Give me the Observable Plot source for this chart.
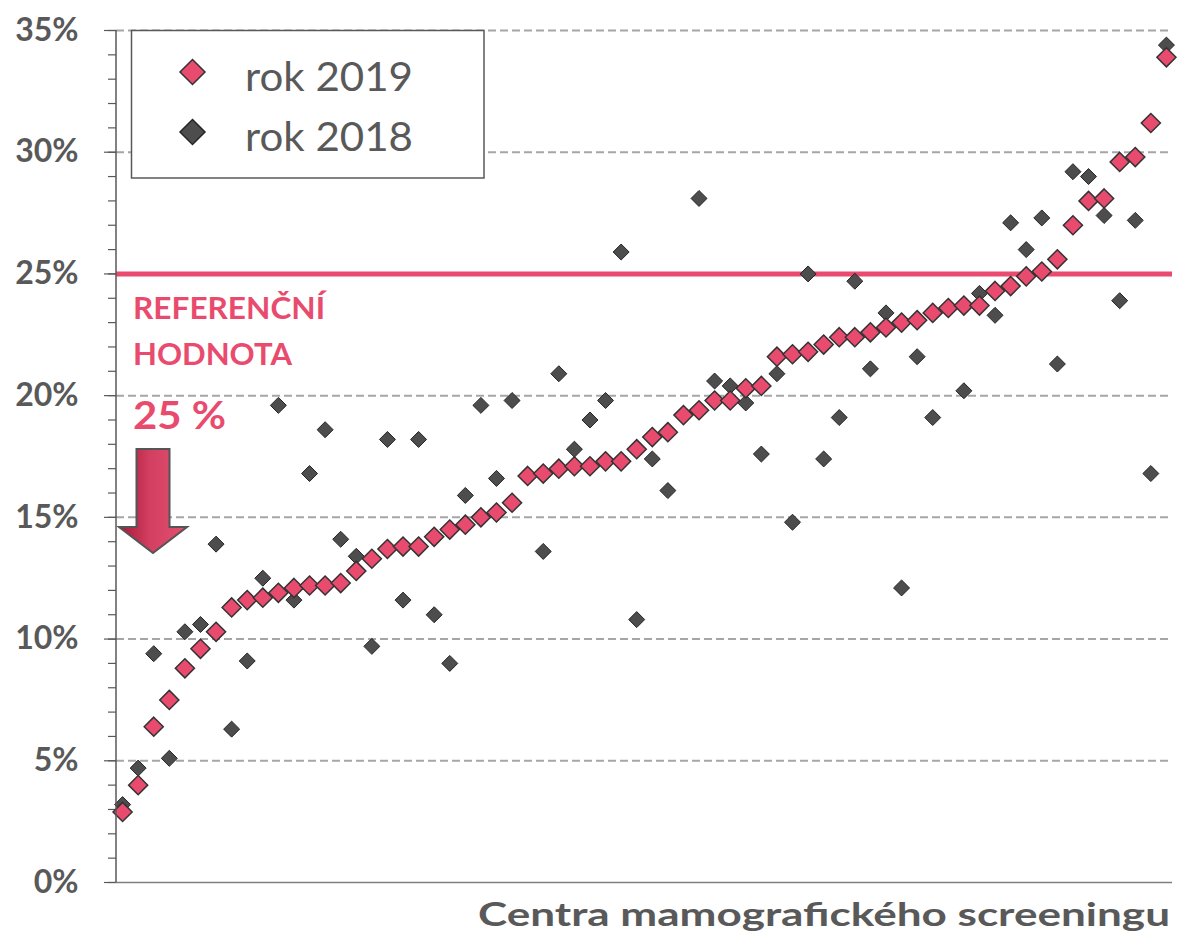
<!DOCTYPE html>
<html><head><meta charset="utf-8">
<script src="https://cdn.jsdelivr.net/npm/d3@7"></script>
<script src="https://cdn.jsdelivr.net/npm/@observablehq/plot@0.6"></script>
<style>
body{margin:0;background:#fff;}
#chart{position:relative;width:1179px;height:936px;}
</style>
</head><body><div id="chart"></div>
<script>
// ---- data ----
const centers = d3.range(1, 69);
const rok2019 = [2.9, 4.0, 6.4, 7.5, 8.8, 9.6, 10.3, 11.3, 11.6, 11.7,
  11.9, 12.1, 12.2, 12.2, 12.3, 12.8, 13.3, 13.7, 13.8, 13.8,
  14.2, 14.5, 14.7, 15.0, 15.2, 15.6, 16.7, 16.8, 17.0, 17.1,
  17.1, 17.3, 17.3, 17.8, 18.3, 18.5, 19.2, 19.4, 19.8, 19.8,
  20.3, 20.4, 21.6, 21.7, 21.8, 22.1, 22.4, 22.4, 22.6, 22.8,
  23.0, 23.1, 23.4, 23.6, 23.7, 23.7, 24.3, 24.5, 24.9, 25.1,
  25.6, 27.0, 28.0, 28.1, 29.6, 29.8, 31.2, 33.9];
const rok2018 = [3.2, 4.7, 9.4, 5.1, 10.3, 10.6, 13.9, 6.3, 9.1, 12.5,
  19.6, 11.6, 16.8, 18.6, 14.1, 13.4, 9.7, 18.2, 11.6, 18.2,
  11.0, 9.0, 15.9, 19.6, 16.6, 19.8, null, 13.6, 20.9, 17.8,
  19.0, 19.8, 25.9, 10.8, 17.4, 16.1, null, 28.1, 20.6, 20.4,
  19.7, 17.6, 20.9, 14.8, 25.0, 17.4, 19.1, 24.7, 21.1, 23.4,
  12.1, 21.6, 19.1, null, 20.2, 24.2, 23.3, 27.1, 26.0, 27.3,
  21.3, 29.2, 29.0, 27.4, 23.9, 27.2, 16.8, 34.4];
const yTicks = [0, 5, 10, 15, 20, 25, 30, 35];
const yMinorTicks = d3.range(0, 36, 1);
const referenceValue = 25;
const seriesNames = ["rok 2019", "rok 2018"];
const xTitle = "Centra mamografického screeningu";
const refLabel = ["REFERENČNÍ", "HODNOTA", "25 %"];

const pink = "#E94B6E";
const dark = "#4D4D4D";
const textGray = "#595959";

const data19 = centers.map((c, i) => ({center: c, value: rok2019[i]}));
const data18 = centers.map((c, i) => ({center: c, value: rok2018[i]}));

const plot = Plot.plot({
  width: 1179, height: 936,
  marginLeft: 116, marginRight: 7, marginTop: 30, marginBottom: 54,
  x: {type: "point", domain: centers, padding: 0.39, axis: null},
  y: {domain: [0, 35], axis: null},
  style: {fontFamily: "Lato, sans-serif", background: "white", overflow: "visible"},
  marks: [
    Plot.ruleY(yTicks.filter(t => t > 0 && t !== referenceValue), {stroke: "#A6A6A6", strokeWidth: 2, strokeDasharray: "8,4"}),
    Plot.axisY(yMinorTicks, {tickSize: 8, text: null, label: null, stroke: textGray, strokeWidth: 1.2}),
    Plot.axisY(yTicks, {tickSize: 12, tickPadding: 26, label: null, tickFormat: d => d + "%", fontSize: 32, fontWeight: "bold", fill: textGray, stroke: textGray, strokeWidth: 1.2}),
    Plot.ruleY([0], {stroke: "#7F7F7F", strokeWidth: 1.5}),
    Plot.ruleY([referenceValue], {stroke: pink, strokeWidth: 5}),
    Plot.dot(data18, {x: "center", y: "value", symbol: "diamond2", r: 7.2, fill: dark, stroke: "#262626", strokeWidth: 1}),
    Plot.dot(data19, {x: "center", y: "value", symbol: "diamond2", r: 8.6, fill: pink, stroke: "#333333", strokeWidth: 1.5})
  ]
});
document.getElementById("chart").appendChild(plot);

const svg = d3.select(plot);
const y = plot.scale("y");

// left axis line (drawn from the y scale)
svg.append("line").attr("x1", 116).attr("x2", 116)
  .attr("y1", y.apply(35)).attr("y2", y.apply(0))
  .attr("stroke", textGray).attr("stroke-width", 1.5);

// x title
svg.append("text").text(xTitle)
  .attr("x", 478).attr("y", 926).attr("text-anchor", "start")
  .attr("font-family", "Lato, sans-serif").attr("font-weight", "bold")
  .attr("font-size", 33).attr("fill", textGray)
  .attr("textLength", 692).attr("lengthAdjust", "spacingAndGlyphs");

// legend
const lg = svg.append("g").attr("text-anchor", "start");
lg.append("rect").attr("x", 131.5).attr("y", 30.5).attr("width", 352.5).attr("height", 147.5)
  .attr("fill", "white").attr("stroke", textGray).attr("stroke-width", 1.5);
const sym = d3.symbol(d3.symbolDiamond2, 398);
[[pink, 72, "#333333"], [dark, 132, "#262626"]].forEach(([f, cy, s], i) => {
  lg.append("path").attr("d", sym()).attr("transform", `translate(192.5,${cy})`)
    .attr("fill", f).attr("stroke", s).attr("stroke-width", 1.5);
  lg.append("text").text(seriesNames[i]).attr("x", 245).attr("y", cy + 19)
    .attr("font-family", "Lato, sans-serif").attr("font-size", 41).attr("fill", textGray)
    .attr("textLength", 168).attr("lengthAdjust", "spacingAndGlyphs");
});

// reference annotation
const ann = svg.append("g").attr("text-anchor", "start").attr("font-family", "Lato, sans-serif").attr("font-weight", "bold").attr("fill", pink);
ann.append("text").text(refLabel[0]).attr("x", 133).attr("y", 319).attr("font-size", 31)
  .attr("textLength", 192).attr("lengthAdjust", "spacingAndGlyphs");
ann.append("text").text(refLabel[1]).attr("x", 133).attr("y", 365).attr("font-size", 31)
  .attr("textLength", 159).attr("lengthAdjust", "spacingAndGlyphs");
ann.append("text").text(refLabel[2]).attr("x", 133).attr("y", 429).attr("font-size", 39)
  .attr("textLength", 93).attr("lengthAdjust", "spacingAndGlyphs");

// arrow
const defs = svg.append("defs");
const grad = defs.append("linearGradient").attr("id", "arrowGrad").attr("x1", "0%").attr("x2", "100%").attr("y1", "0%").attr("y2", "0%");
grad.append("stop").attr("offset", "0%").attr("stop-color", "#A8183A");
grad.append("stop").attr("offset", "45%").attr("stop-color", "#D23F60");
grad.append("stop").attr("offset", "100%").attr("stop-color", "#E55070");
svg.append("path")
  .attr("d", "M136.5,449 L169.5,449 L169.5,527 L187,527 L153,553 L119,527 L136.5,527 Z")
  .attr("fill", "url(#arrowGrad)").attr("stroke", "#555").attr("stroke-width", 2).attr("stroke-linejoin", "miter");
</script>
</body></html>
